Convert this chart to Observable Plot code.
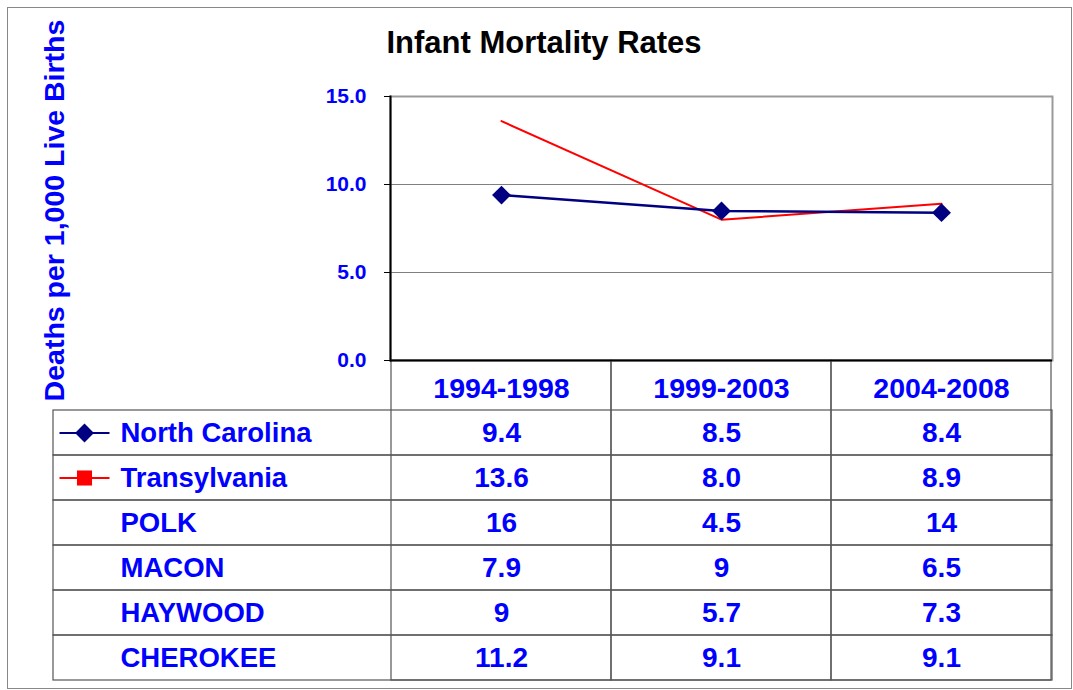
<!DOCTYPE html>
<html>
<head>
<meta charset="utf-8">
<script src="https://cdn.jsdelivr.net/npm/d3@7"></script>
<script src="https://cdn.jsdelivr.net/npm/@observablehq/plot@0.6"></script>
<style>
  html, body { margin: 0; padding: 0; background: #fff; }
  #wrap { position: relative; width: 1073px; height: 690px; overflow: hidden; font-family: "Liberation Sans", Arial, sans-serif; }
  #border { position: absolute; left: 7px; top: 7px; width: 1065px; height: 682px; border: 1px solid #888; box-sizing: border-box; }
  #title { position: absolute; left: 344px; top: 27px; width: 400px; text-align: center; font: bold 31px/31px "Liberation Sans", Arial, sans-serif; color: #000; white-space: nowrap; }
  #ytitle { position: absolute; left: -156px; top: 196px; width: 420px; height: 29px; text-align: center; font: bold 28.5px/29px "Liberation Sans", Arial, sans-serif; color: #0000ff; transform: rotate(-90deg); white-space: nowrap; }
  #chart { position: absolute; left: 0; top: 0; }
  #table { position: absolute; left: 0; top: 360px; }
</style>
</head>
<body>
<div id="wrap">
  <div id="border"></div>
  <div id="table"></div>
  <div id="chart"></div>
  <div id="title">Infant Mortality Rates</div>
  <div id="ytitle">Deaths per 1,000 Live Births</div>
</div>
<script>
// ---- data ----
const categories = ["1994-1998", "1999-2003", "2004-2008"];
const seriesNames = ["North Carolina", "Transylvania", "POLK", "MACON", "HAYWOOD", "CHEROKEE"];
const northCarolina = [9.4, 8.5, 8.4];
const transylvania = [13.6, 8.0, 8.9];
const polk = [16, 4.5, 14];
const macon = [7.9, 9, 6.5];
const haywood = [9, 5.7, 7.3];
const cherokee = [11.2, 9.1, 9.1];
const yTicks = [0, 5, 10, 15];
const yTitle = "Deaths per 1,000 Live Births";
const chartTitle = "Infant Mortality Rates";

const seriesValues = [northCarolina, transylvania, polk, macon, haywood, cherokee];
const plottedCount = 2; // North Carolina and Transylvania are charted

const BLUE = "#0000ff";
const NAVY = "#000080";
const RED = "#ff0000";
const FONT = "Liberation Sans, Arial, sans-serif";

const lineData = (name, vals) => categories.map((c, i) => ({series: name, period: c, value: vals[i]}));
const ncData = lineData(seriesNames[0], northCarolina);
const trData = lineData(seriesNames[1], transylvania);

const tableRows = seriesNames.flatMap((s, i) =>
  categories.map((c, j) => {
    const v = seriesValues[i][j];
    return {series: s, period: c, value: v, label: i < plottedCount ? d3.format(".1f")(v) : String(v)};
  })
);

const legendItems = [
  {series: seriesNames[0], color: NAVY, symbol: "diamond2", r: 8.5},
  {series: seriesNames[1], color: RED, symbol: "square", r: 8.5}
];
const hline = {draw(ctx) { ctx.moveTo(-25, 0); ctx.lineTo(25, 0); }};

document.getElementById("title").textContent = chartTitle;
document.getElementById("ytitle").textContent = yTitle;

// ---- chart ----
const chart = Plot.plot({
  width: 1073,
  height: 362,
  marginLeft: 390,
  marginRight: 21,
  marginTop: 96,
  marginBottom: 2,
  style: {background: "transparent", fontFamily: FONT, overflow: "visible"},
  x: {type: "band", domain: categories, padding: 0, axis: null},
  y: {domain: [0, 15], axis: null},
  marks: [
    Plot.frame({stroke: "#9a9a9a", strokeWidth: 2}),
    Plot.ruleY([5, 10], {stroke: "#808080", strokeWidth: 1}),
    Plot.ruleY([0], {stroke: "#000", strokeWidth: 2}),
    Plot.frame({anchor: "left", stroke: "#000", strokeWidth: 2}),
    Plot.axisY({ticks: yTicks, tickFormat: d => d.toFixed(1), tickSize: 6, tickPadding: 18,
      stroke: "#000", fill: BLUE, fontSize: 21, fontWeight: "bold", label: null}),
    Plot.line(trData, {x: "period", y: "value", stroke: RED, strokeWidth: 2}),
    Plot.line(ncData, {x: "period", y: "value", stroke: NAVY, strokeWidth: 2.5}),
    Plot.dot(ncData, {x: "period", y: "value", symbol: "diamond2", r: 8.5, fill: NAVY, stroke: "none"})
  ]
});
document.getElementById("chart").appendChild(chart);

// ---- data table ----
const table = Plot.plot({
  width: 1073,
  height: 330,
  marginLeft: 390,
  marginRight: 21,
  marginTop: 49,
  marginBottom: 10,
  style: {background: "transparent", fontFamily: FONT, overflow: "visible"},
  x: {type: "band", domain: categories, padding: 0, axis: null},
  y: {type: "band", domain: seriesNames, padding: 0, axis: null},
  r: {type: "identity"},
  symbol: {type: "identity"},
  color: {type: "identity"},
  marks: [
    Plot.cell(seriesNames, {y: d => d, insetLeft: -337, fill: "none", stroke: "#555", strokeWidth: 1.2}),
    Plot.cell(categories, {x: d => d, insetTop: -49, fill: "none", stroke: "#555", strokeWidth: 1.2}),
    Plot.axisX({anchor: "top", tickSize: 0, tickPadding: 12, fill: BLUE, fontSize: 28.5, fontWeight: "bold", label: null}),
    Plot.text(tableRows, {x: "period", y: "series", text: "label", fill: BLUE, fontSize: 28, fontWeight: "bold"}),
    Plot.text(seriesNames, {y: d => d, text: d => d, frameAnchor: "left", textAnchor: "start", dx: -270,
      fill: BLUE, fontSize: 27.5, fontWeight: "bold"}),
    Plot.dot(legendItems, {y: "series", frameAnchor: "left", dx: -306, symbol: hline, stroke: "color", strokeWidth: 2}),
    Plot.dot(legendItems, {y: "series", frameAnchor: "left", dx: -306, symbol: "symbol", r: "r", fill: "color", stroke: "none"})
  ]
});
document.getElementById("table").appendChild(table);
</script>
</body>
</html>
